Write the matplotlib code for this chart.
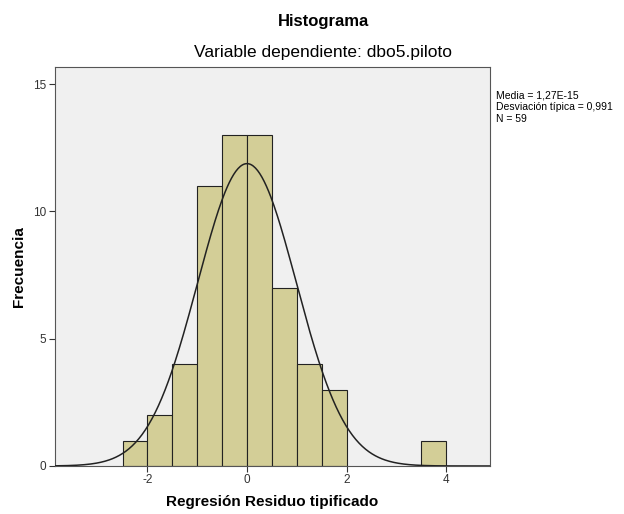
import numpy as np
import matplotlib.pyplot as plt

plt.rcParams['font.family'] = ['Liberation Sans', 'DejaVu Sans']
plt.rcParams['axes.unicode_minus'] = False

# bin edges and counts
bin_left = [-2.5, -2.0, -1.5, -1.0, -0.5, 0.0, 0.5, 1.0, 1.5, 3.5]
counts = [1, 2, 4, 11, 13, 13, 7, 4, 3, 1]
bin_width = 0.5

media = 1.27e-15
desv = 0.991
n = 59

fig = plt.figure(figsize=(6.24, 5.14), dpi=100)
ax = fig.add_axes([0.088, 0.0934, 0.697, 0.7762])
ax.set_facecolor('#f0f0f0')

ax.bar(bin_left, counts, width=bin_width, align='edge',
       color='#d3ce97', edgecolor='#222222', linewidth=0.8, zorder=2)

# normal curve scaled to the counts
xs = np.linspace(-3.86, 4.88, 400)
ys = n * bin_width * np.exp(-0.5 * ((xs - media) / desv) ** 2) / (desv * np.sqrt(2 * np.pi))
ax.plot(xs, ys, color='#222222', linewidth=1.1, zorder=3)

ax.set_xlim(-3.86, 4.88)
ax.set_ylim(0, 15.67)
ax.set_xticks([-2, 0, 2, 4])
ax.set_yticks([0, 5, 10, 15])
ax.tick_params(direction='out', length=4, width=0.8, labelsize=8.5,
               colors='#333333', pad=2)
for s in ax.spines.values():
    s.set_color('#555555')
    s.set_linewidth(0.8)

ax.set_xlabel('Regresión Residuo tipificado', fontsize=11, fontweight='bold', labelpad=6)
ax.set_ylabel('Frecuencia', fontsize=11, fontweight='bold', labelpad=5)

fig.text(0.518, 0.959, 'Histograma', ha='center', va='center', fontsize=12, fontweight='bold')
fig.text(0.518, 0.898, 'Variable dependiente: dbo5.piloto', ha='center', va='center',
         fontsize=12.5, fontweight='medium')

fig.text(0.795, 0.792,
         'Media = 1,27E-15\nDesviación típica = 0,991\nN = 59',
         ha='left', va='center', fontsize=7.5, linespacing=1.2)

fig.savefig('out.png', dpi=100)
